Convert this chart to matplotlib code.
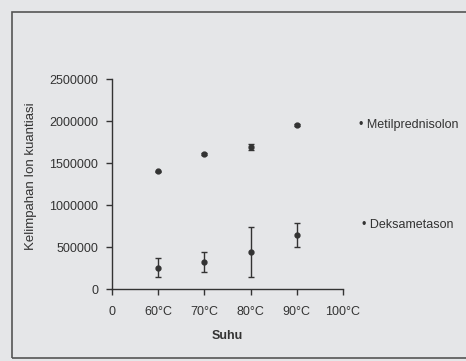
import matplotlib.pyplot as plt
from matplotlib import font_manager
from matplotlib.patches import Rectangle

# values
tick_labels = ["0", "60°C", "70°C", "80°C", "90°C", "100°C"]
suhu = ["60°C", "70°C", "80°C", "90°C"]
metil = [1400000, 1605000, 1690000, 1950000]
metil_err = [10000, 10000, 40000, 10000]
deksa = [255000, 325000, 440000, 645000]
deksa_err = [110000, 120000, 300000, 140000]

names = {f.name for f in font_manager.fontManager.ttflist}
family = "Liberation Sans Narrow" if "Liberation Sans Narrow" in names else "Liberation Sans"
plt.rcParams["font.family"] = family
ink = "#333333"
bg = "#e5e6e8"

fig = plt.figure(figsize=(4.66, 3.61), dpi=100, facecolor=bg)
ax = fig.add_axes([112 / 466, 1 - 289 / 361, 231 / 466, 210 / 361], facecolor=bg)

# outer frame of the chart area
fig.patches.append(Rectangle((12 / 466, 3 / 361), 460 / 466, 346 / 361,
                             transform=fig.transFigure, fill=False,
                             edgecolor="#555555", lw=1.2))

x = [tick_labels.index(s) for s in suhu]
ax.errorbar(x, metil, yerr=metil_err, fmt="o", ms=3.5, color=ink,
            ecolor=ink, elinewidth=1, capsize=2.5, capthick=1)
ax.errorbar(x, deksa, yerr=deksa_err, fmt="o", ms=3.5, color=ink,
            ecolor=ink, elinewidth=1, capsize=2.5, capthick=1)

ax.set_xlim(0, 5)
ax.set_ylim(0, 2500000)
ax.set_xticks(range(len(tick_labels)))
ax.set_xticklabels(tick_labels)
ax.set_yticks(range(0, 2500001, 500000))
ax.set_yticklabels([str(v) for v in range(0, 2500001, 500000)])
for s in ["top", "right"]:
    ax.spines[s].set_visible(False)
for s in ["left", "bottom"]:
    ax.spines[s].set_color(ink)
    ax.spines[s].set_linewidth(1)
ax.tick_params(colors=ink, labelsize=9, length=4, width=1, pad=6)
ax.tick_params(axis="x", pad=8)

ax.set_xlabel("Suhu", fontsize=9, color=ink, fontweight="bold", labelpad=9)
fig.text(31 / 466, 1 - 176 / 361, "Kelimpahan Ion kuantiasi", rotation=90,
         ha="center", va="center", fontsize=9.5, color=ink)

fig.text(359 / 466, 1 - 125 / 361, "• Metilprednisolon", ha="left",
         va="center", fontsize=9, color=ink)
fig.text(362 / 466, 1 - 225 / 361, "• Deksametason", ha="left",
         va="center", fontsize=9, color=ink)

fig.savefig("out.png", dpi=100, facecolor=bg)
